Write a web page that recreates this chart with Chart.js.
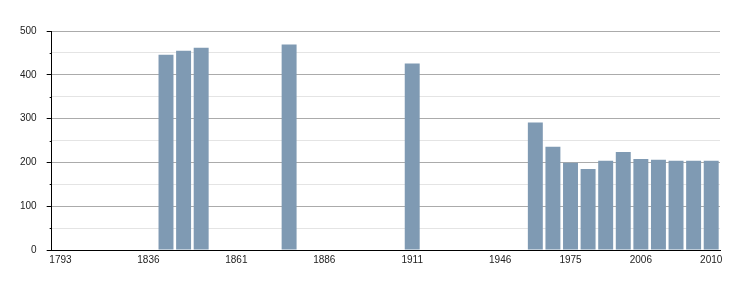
<!DOCTYPE html>
<html>
<head>
<meta charset="utf-8">
<script src="https://cdn.jsdelivr.net/npm/chart.js@4"></script>
<style>
    html, body { margin: 0; padding: 0; background: #fff; }
    #wrap { width: 750px; height: 300px; }
</style>
</head>
<body>
<div id="wrap"><canvas id="popChart"></canvas></div>
<script>
// ======================
// DATA
// ======================
const years = [
    "1793", "1800", "1806", "1821", "1831", "1836", "1841", "1846", "1851", "1856",
    "1861", "1866", "1872", "1876", "1881", "1886", "1891", "1896", "1901", "1906",
    "1911", "1921", "1926", "1931", "1936", "1946", "1954", "1962", "1968", "1975",
    "1982", "1990", "1999", "2006", "2007", "2008", "2009", "2010"
];
const population = [
    null, null, null, null, null, null, 446, 455, 462, null,
    null, null, null, 469, null, null, null, null, null, null,
    426, null, null, null, null, null, null, 291, 236, 199,
    185, 204, 224, 208, 206, 204, 204, 204
];
const shownYears = ["1793", "1836", "1861", "1886", "1911", "1946", "1975", "2006", "2010"];

// ======================
// SHORT MINOR TICKS ON Y AXIS
// ======================
const minorTicks = {
    id: "minorTicks",
    afterDraw(chart) {
        const y = chart.scales.y;
        const ctx = chart.ctx;
        ctx.save();
        ctx.strokeStyle = "#000";
        ctx.lineWidth = 1;
        y.ticks.forEach(t => {
            if (t.value % 100 !== 0) {
                const py = Math.round(y.getPixelForValue(t.value)) + 0.5;
                ctx.beginPath();
                ctx.moveTo(y.right - 2, py);
                ctx.lineTo(y.right, py);
                ctx.stroke();
            }
        });
        ctx.restore();
    }
};

// ======================
// RENDER CHART
// ======================
new Chart(document.getElementById("popChart"), {
    type: "bar",
    data: {
        labels: years,
        datasets: [{
            data: population,
            backgroundColor: "#7f9ab3",
            borderWidth: 0,
            categoryPercentage: 1,
            barPercentage: 0.85
        }]
    },
    options: {
        responsive: true,
        maintainAspectRatio: false,
        animation: false,
        layout: { padding: { left: 10, right: 30, top: 31, bottom: 30 } },
        plugins: {
            legend: { display: false },
            tooltip: { enabled: false }
        },
        scales: {
            x: {
                grid: { display: false, drawTicks: false },
                border: { color: "#000", width: 1 },
                ticks: {
                    autoSkip: false,
                    maxRotation: 0,
                    padding: 4,
                    color: "#222",
                    font: { family: "'Liberation Sans', Arial, sans-serif", size: 10 },
                    callback: function (val, i) {
                        const lab = this.getLabelForValue(val);
                        return shownYears.includes(lab) ? lab : "";
                    }
                }
            },
            y: {
                min: 0,
                max: 500,
                ticks: {
                    stepSize: 50,
                    padding: 10,
                    color: "#222",
                    font: { family: "'Liberation Sans', Arial, sans-serif", size: 10 },
                    callback: v => (v % 100 === 0 ? v : "")
                },
                grid: {
                    color: c => (c.tick && c.tick.value % 100 === 0 ? "#ababab" : "#e4e4e4"),
                    tickColor: c => (c.tick && c.tick.value % 100 === 0 ? "#000" : "rgba(0,0,0,0)"),
                    tickLength: 5
                },
                border: { color: "#000", width: 1 }
            }
        }
    },
    plugins: [minorTicks]
});
</script>
</body>
</html>
